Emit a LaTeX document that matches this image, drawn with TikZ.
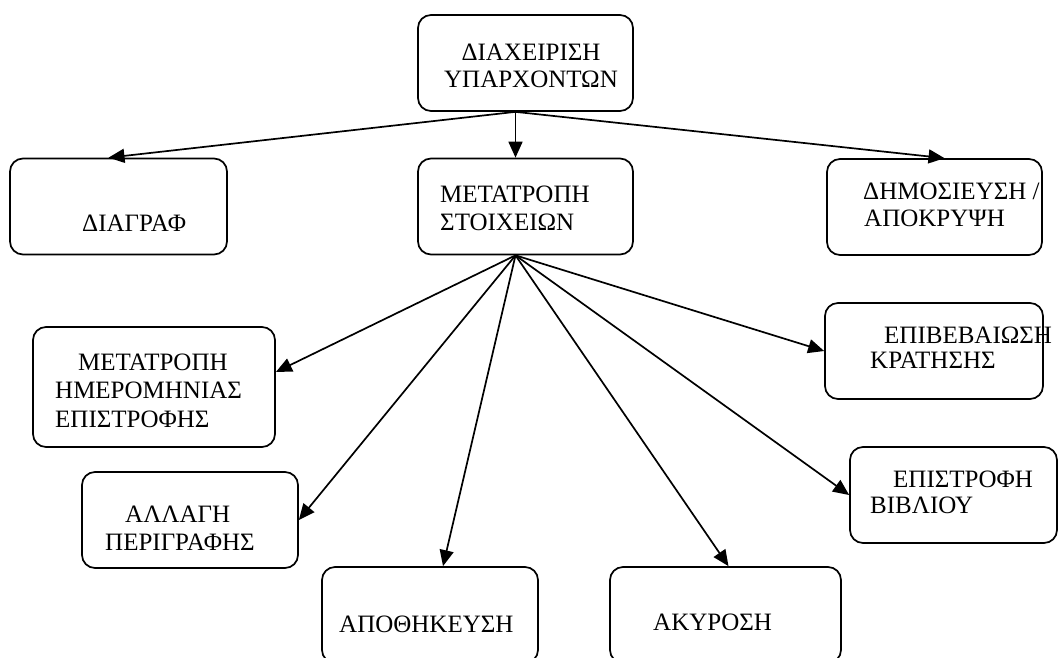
\documentclass[tikz,border=0pt]{standalone}
\usepackage{fontspec}
\setmainfont{Liberation Serif}
\usetikzlibrary{positioning,arrows.meta,calc}

\begin{document}
\begin{tikzpicture}[x=1pt, y=-1pt,
    box/.style={draw, line width=1.7pt, rounded corners=13pt, minimum width=215pt,
                minimum height=96pt, inner sep=0pt},
    txt/.style={font=\fontsize{25}{28}\selectfont, inner sep=0pt, anchor=base west},
    link/.style={line width=1.7pt, -{Triangle[length=16pt, width=14pt]}}]
  \useasboundingbox (0,0) rectangle (1058,657);
  \clip (0,0) rectangle (1058,657);

  % boxes
  \node[box] (top) at (525.5,63) {};
  \node[box, minimum width=217pt] (del) at (118.5,206.5) {};
  \node[box] (meta) at (525.5,206.5) {};
  \node[box] (pub) at (934.5,207) {};
  \node[box, minimum width=242pt, minimum height=120pt] (date) at (154,387) {};
  \node[box, minimum width=218pt] (conf) at (934,351) {};
  \node[box, minimum width=216pt] (desc) at (190,520) {};
  \node[box, minimum width=207pt] (ret) at (953.5,495) {};
  \node[box, minimum width=216pt] (save) at (430,615) {};
  \node[box, minimum width=231pt] (canc) at (725.5,615) {};

  % texts
  \node[txt, anchor=base] (topA) at (531,60) {ΔΙΑΧΕΙΡΙΣΗ};
  \node[txt, anchor=base] (topB) at (531,87) {ΥΠΑΡΧΟΝΤΩΝ};
  \node[txt] (delA) at (82,231) {ΔΙΑΓΡΑΦ};
  \node[txt] (metaA) at (440,202) {ΜΕΤΑΤΡΟΠΗ};
  \node[txt] (metaB) at (440,230) {ΣΤΟΙΧΕΙΩΝ};
  \node[txt] (pubA) at (863,199) {ΔΗΜΟΣΙΕΥΣΗ /};
  \node[txt] (pubB) at (864,226) {ΑΠΟΚΡΥΨΗ};
  \node[txt] (dateA) at (78,370) {ΜΕΤΑΤΡΟΠΗ};
  \node[txt] (dateB) at (55,398) {ΗΜΕΡΟΜΗΝΙΑΣ};
  \node[txt] (dateC) at (55,427) {ΕΠΙΣΤΡΟΦΗΣ};
  \node[txt] (confA) at (884,343) {ΕΠΙΒΕΒΑΙΩΣΗ};
  \node[txt] (confB) at (870,368) {ΚΡΑΤΗΣΗΣ};
  \node[txt] (descA) at (125,522) {ΑΛΛΑΓΗ};
  \node[txt] (descB) at (105,550) {ΠΕΡΙΓΡΑΦΗΣ};
  \node[txt] (retA) at (893,487) {ΕΠΙΣΤΡΟΦΗ};
  \node[txt] (retB) at (870,513) {ΒΙΒΛΙΟΥ};
  \node[txt] (saveA) at (339,632) {ΑΠΟΘΗΚΕΥΣΗ};
  \node[txt] (cancA) at (653,630) {ΑΚΥΡΟΣΗ};

  % connectors
  \coordinate (topout) at ($(top.south)+(-10,0)$);
  \coordinate (metaout) at ($(meta.south)+(-10,0)$);
  \draw[link] (topout) -- ($(del.north)+(-10,0)$);
  \draw[link] (topout) -- ($(meta.north)+(-10,0)$);
  \draw[link] (topout) -- ($(pub.north)+(10,0)$);
  \draw[link] (metaout) -- ($(date.east)+(0,-15)$);
  \draw[link] (metaout) -- (desc.east);
  \draw[link] (metaout) -- ($(save.north)+(13,0)$);
  \draw[link] (metaout) -- ($(canc.north)+(3,0)$);
  \draw[link] (metaout) -- (ret.west);
  \draw[link] (metaout) -- (conf.west);
\end{tikzpicture}
\end{document}
